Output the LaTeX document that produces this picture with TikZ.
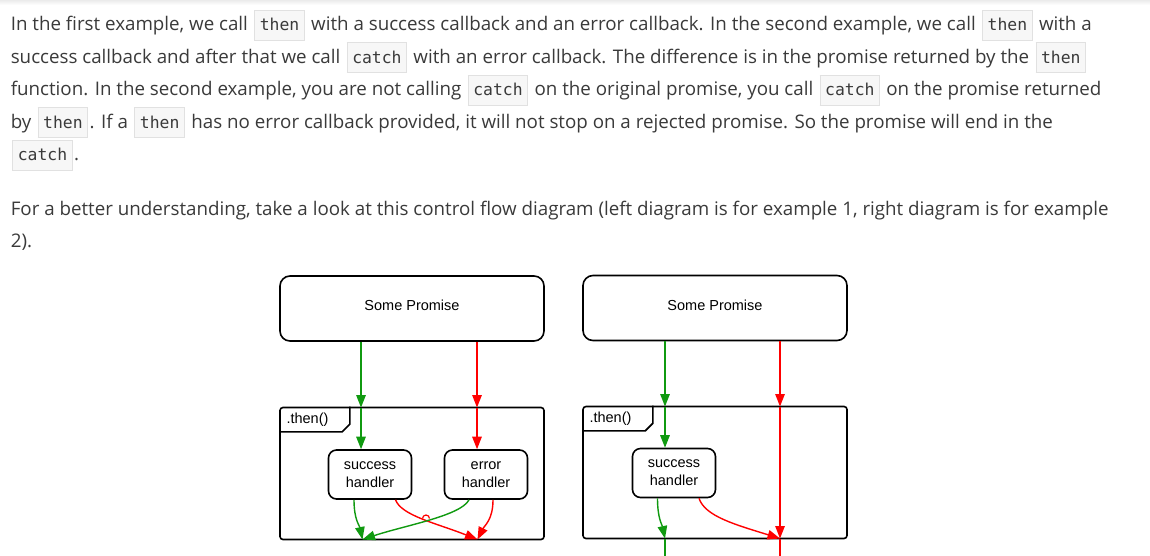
\documentclass[tikz,border=0pt]{standalone}
\usepackage{fontspec}
\setmainfont{Open Sans}
\setsansfont{Liberation Sans}
\setmonofont{DejaVu Sans Mono}
\usepackage{tikz}
\usetikzlibrary{shapes, positioning, arrows.meta, backgrounds}
\definecolor{txt}{HTML}{3A3A3A}
\definecolor{codebg}{HTML}{F7F7F7}
\definecolor{codeline}{HTML}{E1E1E1}
\definecolor{okgreen}{HTML}{109A10}
\definecolor{errred}{HTML}{FF0000}
\newcommand{\code}[1]{\hspace{1.5pt}{\setlength{\fboxsep}{0pt}\setlength{\fboxrule}{1pt}\fcolorbox{codeline}{codebg}{\hspace{4.5pt}\rule[-9pt]{0pt}{28.6pt}{\fontsize{16.4}{18}\ttfamily #1}\hspace{4.5pt}}}\hspace{1.5pt}}

\begin{document}
\begin{tikzpicture}[x=1pt, y=-1pt, semithick]
\tikzstyle{para}=[anchor=base west, inner sep=0pt, text=txt, font=\fontsize{18.75}{32}\selectfont]
\tikzstyle{promise}=[draw, line width=1.6pt, rounded corners=10pt, minimum width=264pt, minimum height=65pt, text height=10pt, text depth=6pt, font=\sffamily\fontsize{14.5}{18}\selectfont]
\tikzstyle{frame}=[draw, line width=1.6pt, rounded corners=3pt, minimum width=264pt, minimum height=132pt]
\tikzstyle{handler}=[draw, line width=1.6pt, rounded corners=8pt, minimum width=83pt, minimum height=49pt, align=center, font=\sffamily\fontsize{14.5}{18}\selectfont]
\tikzstyle{tab}=[anchor=north west, text width=56pt, inner xsep=7pt, inner ysep=0pt, minimum height=24.5pt, align=left, font=\sffamily\fontsize{14.5}{18}\selectfont]
\tikzstyle{ok}=[okgreen, line width=1.4pt, -{Triangle[length=12.5pt, width=9.5pt]}]
\tikzstyle{err}=[errred, line width=1.4pt, -{Triangle[length=12.5pt, width=9.5pt]}]

\useasboundingbox (0,0) rectangle (1150,555);
\fill[white] (0,0) rectangle (1150,555);
\shade[top color=black!8, bottom color=white] (0,0) rectangle (1150,5);

\node[para] (l1) at (10.5,30.5) {In the first example, we call \code{then} with a success callback and an error callback. In the second example, we call \code{then} with a};
\node[para] (l2) at (10.5,63) {success callback and after that we call \code{catch} with an error callback. The difference is in the promise returned by the \code{then}};
\node[para] (l3) at (10.5,95.5) {function. In the second example, you are not calling \code{catch} on the original promise, you call \code{catch} on the promise returned};
\node[para] (l4) at (10.5,128) {by \code{then}. If a \code{then} has no error callback provided, it will not stop on a rejected promise. So the promise will end in the};
\node[para] (l5) at (10.5,160.5) {\code{catch}.};
\node[para] (m1) at (10.5,215.3) {For a better understanding, take a look at this control flow diagram (left diagram is for example 1, right diagram is for example};
\node[para] (m2) at (10.5,247.5) {2).};

\node[promise]   (p1) at (412,308.5) {Some Promise};
\node[frame]     (f1) at (412,473.5) {};
\node[tab]       (t1) at (f1.north west) {.then()};
\node[handler]   (s1) at (370,474.5) {success\\handler};
\node[handler]   (e1) at (486,474.5) {error\\handler};
\draw[line width=1.6pt] (t1.south west) -- ([xshift=-7.5pt]t1.south east) -- ([yshift=7.5pt]t1.south east) -- (t1.north east);

\coordinate (g1) at (361,407.5);
\coordinate (r1) at (477,407.5);
\coordinate (g1o) at (362.5,539.5);
\coordinate (r1o) at (477.5,539.5);

\path
(p1.south -| g1) edge[ok] (g1)
(g1) edge[ok] (s1.north -| g1)
(p1.south -| r1) edge[err] (r1)
(r1) edge[err] (e1.north -| r1);

\draw[err] ([xshift=25.5pt]s1.south) .. controls +(6,16) and +(-40,-16) .. (r1o);
\draw[errred, line width=1.2pt] (422.5,518.5) arc[start angle=180, end angle=0, radius=3.5pt];
\draw[err] ([xshift=7pt]e1.south) .. controls +(0,20) and +(7,-14) .. (r1o);
\draw[ok] ([xshift=-16pt]s1.south) .. controls +(0,20) and +(-3,-14) .. (g1o);
\draw[ok] ([xshift=-17pt]e1.south) .. controls +(-8,16) and +(42,-14) .. (g1o);

\node[promise]   (p2) at (715,308) {Some Promise};
\node[frame]     (f2) at (715,472.5) {};
\node[tab]       (t2) at (f2.north west) {.then()};
\node[handler]   (s2) at (674,473) {success\\handler};
\draw[line width=1.6pt] (t2.south west) -- ([xshift=-7.5pt]t2.south east) -- ([yshift=7.5pt]t2.south east) -- (t2.north east);

\coordinate (g2) at (665,406.5);
\coordinate (r2) at (780,406.5);
\coordinate (g2o) at (665,538.5);
\coordinate (r2o) at (780,538.5);
\coordinate (g2e) at (665,558);
\coordinate (r2e) at (780,558);

\path
(p2.south -| g2) edge[ok] (g2)
(g2) edge[ok] (s2.north -| g2)
(p2.south -| r2) edge[err] (r2)
(r2) edge[err] (r2o)
(r2o) edge[errred, line width=1.4pt] (r2e)
(g2o) edge[okgreen, line width=1.4pt] (g2e);

\draw[err] ([xshift=25pt]s2.south) .. controls +(6,18) and +(-45,-14) .. (r2o);
\draw[ok] ([xshift=-16.5pt]s2.south) .. controls +(0,20) and +(-3,-14) .. (g2o);

\end{tikzpicture}
\end{document}
